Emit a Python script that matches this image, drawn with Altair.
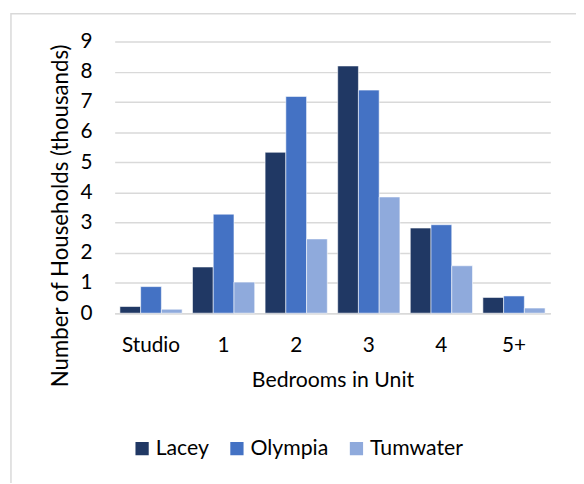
import altair as alt
import pandas as pd

categories = ["Studio", "1", "2", "3", "4", "5+"]
series = ["Lacey", "Olympia", "Tumwater"]
lacey = [0.22, 1.53, 5.33, 8.19, 2.82, 0.52]
olympia = [0.88, 3.28, 7.18, 7.39, 2.93, 0.57]
tumwater = [0.13, 1.03, 2.46, 3.85, 1.57, 0.17]
colors = ["#203864", "#4472C4", "#8FAADC"]
y_ticks = list(range(0, 10))

rows = []
for name, vals in zip(series, [lacey, olympia, tumwater]):
    for c, v in zip(categories, vals):
        rows.append({"Bedrooms": c, "City": name, "Households": v})
df = pd.DataFrame(rows)

FONT = "Lato"

bars = alt.Chart(df).mark_bar(stroke="white", strokeWidth=0.8, strokeOpacity=0.7).encode(
    x=alt.X("Bedrooms:N", sort=categories,
            scale=alt.Scale(paddingInner=0.143, paddingOuter=0.072),
            axis=alt.Axis(title="Bedrooms in Unit", labelAngle=0, ticks=False,
                          domain=True, domainColor="#D9D9D9", domainWidth=1.5,
                          labelPadding=22, titlePadding=14,
                          labelFontSize=21, titleFontSize=21.5,
                          labelFont=FONT, titleFont=FONT,
                          labelColor="#000000", titleColor="#000000",
                          titleFontWeight="normal")),
    xOffset=alt.XOffset("City:N", sort=series,
                        scale=alt.Scale(paddingInner=0, paddingOuter=0)),
    y=alt.Y("Households:Q", scale=alt.Scale(domain=[0, 9], nice=False),
            axis=alt.Axis(title="Number of Households (thousands)", values=y_ticks,
                          ticks=False, domain=False, grid=True,
                          gridColor="#D9D9D9", gridWidth=1.5,
                          labelPadding=23, labelFontSize=21, titleFontSize=22.5,
                          labelFont=FONT, titleFont=FONT,
                          labelColor="#000000", titleColor="#000000",
                          titleFontWeight="normal", titleX=-43, titleY=176)),
    color=alt.Color("City:N", sort=series,
                    scale=alt.Scale(domain=series, range=colors),
                    legend=alt.Legend(title=None, orient="none", direction="horizontal",
                                      legendX=17, legendY=401,
                                      symbolType="square", symbolSize=180,
                                      symbolStrokeWidth=0, labelOffset=3,
                                      columnPadding=17, labelFontSize=21.5,
                                      labelFont=FONT, labelColor="#000000")),
)

frame = alt.Chart(alt.Data(values=[{}])).mark_rect(
    filled=False, stroke="#D9D9D9", strokeWidth=1.5
).encode(
    x=alt.value(-105), x2=alt.value(800), y=alt.value(-28), y2=alt.value(800)
)

chart = alt.layer(frame, bars).properties(
    width=441, height=275,
    autosize=alt.AutoSizeParams(type="none"),
    padding={"left": 108, "top": 31, "right": 26, "bottom": 169},
).configure_view(stroke=None)

chart.save("out.html", embed_options={"renderer": "svg", "actions": False})
